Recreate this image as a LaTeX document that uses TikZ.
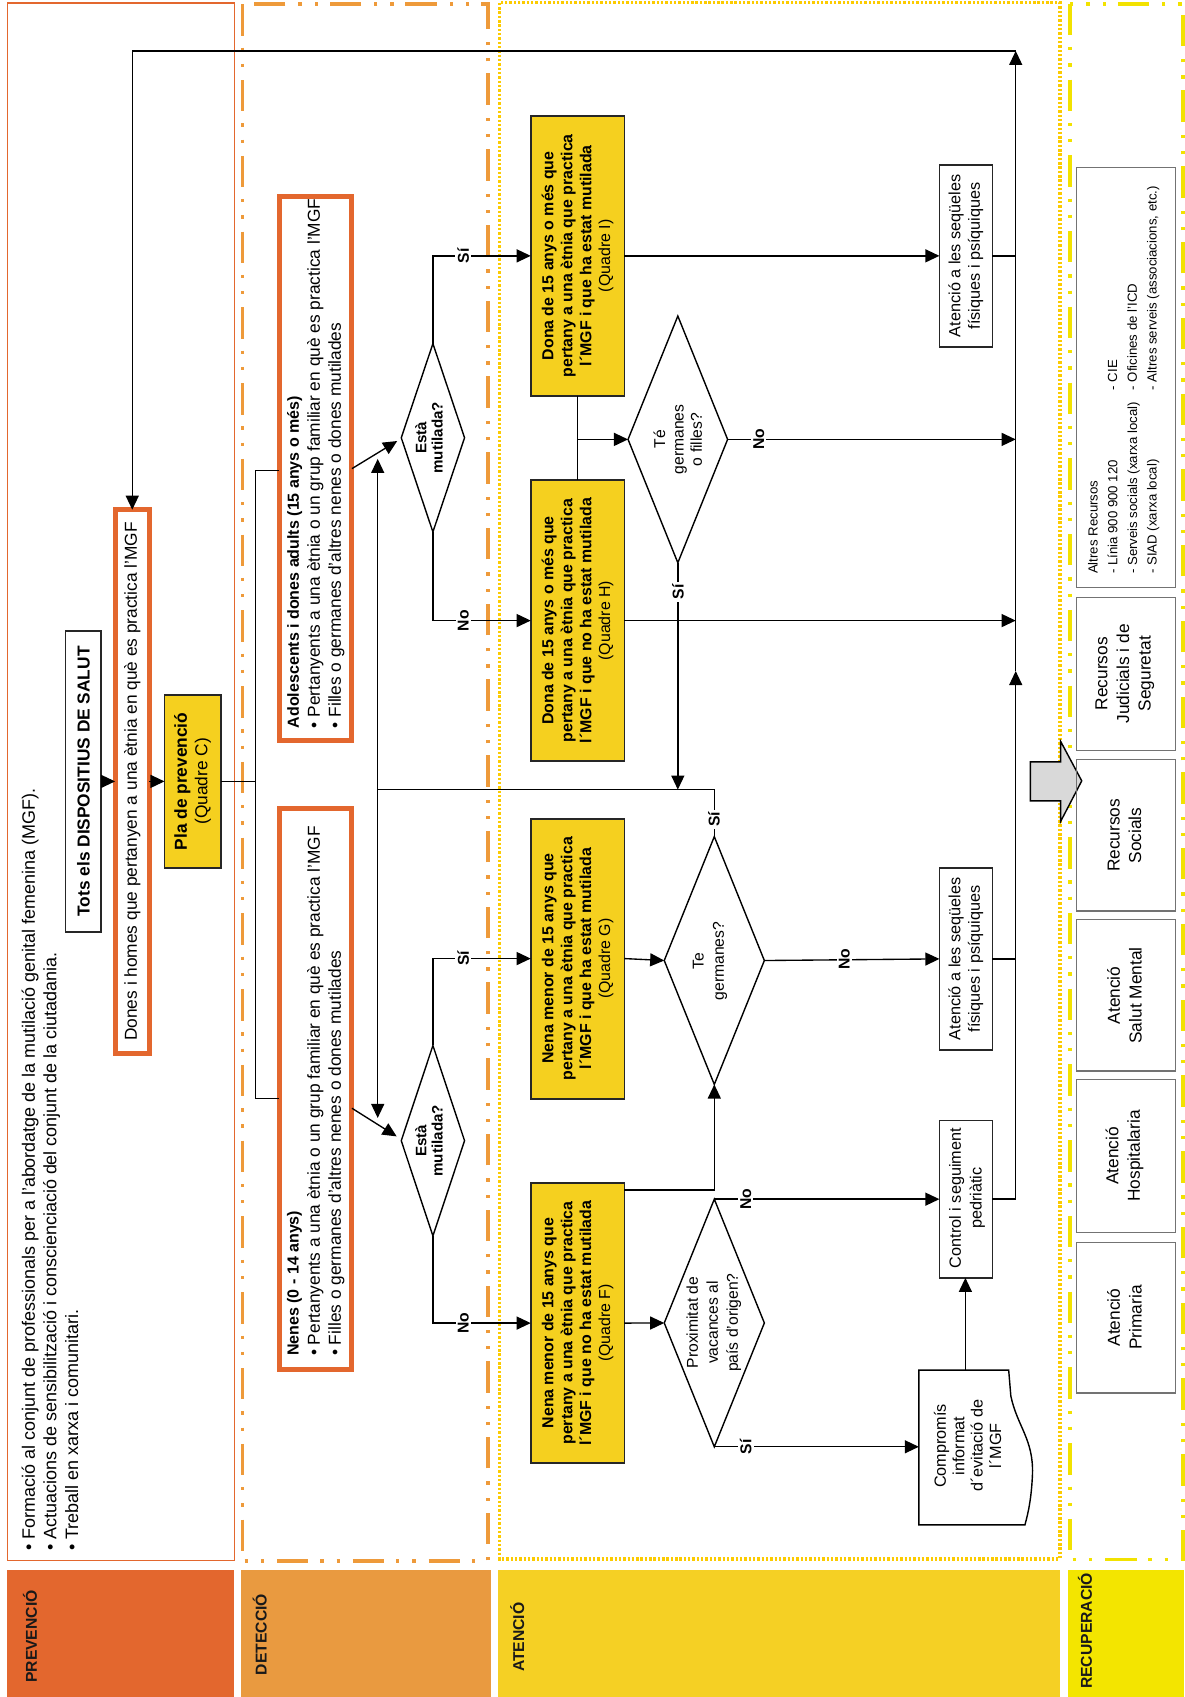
\documentclass[tikz,border=0pt]{standalone}
\usepackage{fontspec}
\setmainfont{Liberation Sans}
\usetikzlibrary{shapes.geometric,arrows.meta,calc}
\newcommand{\myfs}[2]{\fontsize{#1}{#2}\selectfont}
\definecolor{prevO}{HTML}{E3672E}
\definecolor{detO}{HTML}{E99A40}
\definecolor{detD}{HTML}{EE9A3A}
\definecolor{atY}{HTML}{F5D024}
\definecolor{atD}{HTML}{FCCB00}
\definecolor{recY}{HTML}{F3E500}
\definecolor{recD}{HTML}{F2E200}
\definecolor{boxY}{HTML}{F5D01F}
\definecolor{grayA}{HTML}{D9D9D9}
\begin{document}
\begin{tikzpicture}[x=1pt,y=-1pt,
  shp/.style={inner sep=0pt, outer sep=0pt},
  ybox/.style={shp, rectangle, draw=black!85, line width=1.8pt, fill=boxY},
  obox/.style={shp, rectangle, draw=prevO, line width=4.6pt},
  wbox/.style={shp, rectangle, draw=black!85, line width=1.4pt},
  gbox/.style={shp, rectangle, draw=black!55, line width=1.1pt},
  dia/.style={shp, diamond, draw=black, line width=1.3pt},
  txt/.style={rotate=90, inner sep=0pt, align=center, text=black},
  lbl/.style={rotate=90, fill=white, inner sep=2pt, font=\myfs{14.5}{17}\bfseries},
  lane/.style={rotate=90, anchor=west, inner sep=0pt, font=\myfs{14.5}{17}\bfseries, text=black!90},
  conn/.style={line width=1.25pt, draw=black},
  arr/.style={conn, -{Triangle[length=13pt,width=12pt]}},
  ddd/.style={line width=3.5pt, dash pattern=on 29pt off 11pt on 3pt off 12pt on 3pt off 12pt}
]
\useasboundingbox (0,0) rectangle (1094,1568);
\fill[white] (0,0) rectangle (1094,1568);

% ---------- lanes ----------
\draw[prevO, line width=1.5pt] (6.8,2.6) rectangle (216.5,1442);
\fill[prevO] (6.8,1450.3) rectangle (216.5,1568);
\draw[detD, ddd] (224,4) rectangle (450.8,1442);
\fill[detO] (222.7,1450.3) rectangle (453.4,1568);
\draw[atD, line width=3pt, dash pattern=on 2.2pt off 1.8pt] (461.6,2.6) rectangle (979.4,1440.4);
\fill[atY] (460,1450.3) rectangle (979.4,1568);
\draw[recD, ddd] (988.6,3.5) rectangle (1092.7,1441);
\fill[recY] (987,1450.3) rectangle (1094,1568);

\node[lane] (lprev) at (27.7,1555) {PREVENCIÓ};
\node[lane] (ldet) at (240,1548) {DETECCIÓ};
\node[lane] (lat) at (478,1545) {ATENCIÓ};
\node[lane] (lrec) at (1002.5,1560.7) {RECUPERACIÓ};

% ---------- prevenció ----------
\node[txt, align=left, anchor=west, font=\myfs{16.6}{20}] (prevT) at (46.1,1433)
 {• Formació al conjunt de professionals per a l'abordatge de la mutilació genital femenina (MGF).\\
  • Actuacions de sensibilització i conscienciació del conjunt de la ciutadania.\\
  • Treball en xarxa i comunitari.};

\node[wbox, minimum width=32.6pt, minimum height=278pt] (tots) at (77,722) {};
\node[txt, font=\myfs{16}{19}\bfseries] (totsT) at (tots) {Tots els DISPOSITIUS DE SALUT};

\node[obox, minimum width=31.7pt, minimum height=502pt] (dones) at (122.2,722) {};
\node[txt, font=\myfs{16}{19}] (donesT) at (dones) {Dones i homes que pertanyen a una ètnia en què es practica l'MGF};

\node[ybox, minimum width=52pt, minimum height=159.3pt] (pla) at (178,722) {};
\node[txt, font=\myfs{16}{19}] (plaT) at (pla) {{\bfseries Pla de prevenció}\\(Quadre C)};

% ---------- detecció ----------
\node[obox, minimum width=67.4pt, minimum height=502pt] (ado) at (291.5,433) {};
\node[txt, align=left, anchor=west, font=\myfs{16}{19.5}] (adoT) at (291.8,673)
 {{\bfseries\myfs{14.8}{19.5}Adolescents i dones adults (15 anys o més)}\\
  • Pertanyents a una ètnia o un grup familiar en què es practica l'MGF\\
  • Filles o germanes d'altres nenes o dones mutilades};

\node[obox, minimum width=67.4pt, minimum height=518.5pt] (nen) at (291.5,1006) {};
\node[txt, align=left, anchor=west, font=\myfs{16}{19.5}] (nenT) at (291.8,1253)
 {{\bfseries\myfs{14.8}{19.5}Nenes (0 - 14 anys)}\\
  • Pertanyents a una ètnia o un grup familiar en què es practica l'MGF\\
  • Filles o germanes d'altres nenes o dones mutilades};

\node[dia, minimum width=58.5pt, minimum height=174pt] (em1) at (400,404.5) {};
\node[txt, font=\myfs{14}{15}\bfseries] (em1T) at (396.5,404.5) {Està\\mutilada?};
\node[dia, minimum width=58.5pt, minimum height=176pt] (em2) at (400,1054) {};
\node[txt, font=\myfs{14}{15}\bfseries] (em2T) at (396.5,1054) {Està\\mutilada?};

% ---------- atenció ----------
\node[ybox, minimum width=86.6pt, minimum height=258.4pt] (qI) at (533.7,236.4) {};
\node[txt, font=\myfs{14.7}{17.5}\bfseries] (qIT) at (qI) {Dona de 15 anys o més que\\pertany a una ètnia que practica\\l´MGF i que ha estat mutilada\\{\mdseries (Quadre I)}};
\node[ybox, minimum width=86.6pt, minimum height=259.1pt] (qH) at (533.7,573.4) {};
\node[txt, font=\myfs{14.7}{17.5}\bfseries] (qHT) at (qH) {Dona de 15 anys o més que\\pertany a una ètnia que practica\\l´MGF i que no ha estat mutilada\\{\mdseries (Quadre H)}};
\node[ybox, minimum width=86.6pt, minimum height=258.7pt] (qG) at (533.7,885.7) {};
\node[txt, font=\myfs{14.7}{17.5}\bfseries] (qGT) at (qG) {Nena menor de 15 anys que\\pertany a una ètnia que practica\\l´MGF i que ha estat mutilada\\{\mdseries (Quadre G)}};
\node[ybox, minimum width=86.6pt, minimum height=258.4pt] (qF) at (533.7,1222.5) {};
\node[txt, font=\myfs{14.7}{17.5}\bfseries] (qFT) at (qF) {Nena menor de 15 anys que\\pertany a una ètnia que practica\\l´MGF i que no ha estat mutilada\\{\mdseries (Quadre F)}};

\node[dia, minimum width=92pt, minimum height=228pt] (tgf) at (626.3,406) {};
\node[txt, font=\myfs{14.5}{17}] (tgfT) at (626.3,406) {Té\\germanes\\o filles?};
\node[dia, minimum width=92.5pt, minimum height=229pt] (tg) at (660,887.5) {};
\node[txt, font=\myfs{14.5}{18.5}] (tgT) at (656,888) {Te\\germanes?};
\node[dia, minimum width=92.5pt, minimum height=228.8pt] (px) at (660,1222.4) {};
\node[txt, font=\myfs{14.5}{18.5}] (pxT) at (659.6,1222) {Proximitat de\\vacances al\\país d'origen?};

\node[wbox, minimum width=49pt, minimum height=168.2pt] (atU) at (892.5,236.4) {};
\node[txt, font=\myfs{15}{18}] (atUT) at (atU) {Atenció a les seqüeles\\físiques i psíquiques};
\node[wbox, minimum width=49pt, minimum height=168pt] (atL) at (892.5,886) {};
\node[txt, font=\myfs{15}{18}] (atLT) at (atL) {Atenció a les seqüeles\\físiques i psíquiques};
\node[wbox, minimum width=49pt, minimum height=145.4pt] (ctrl) at (892.5,1108) {};
\node[txt, font=\myfs{15}{19}] (ctrlT) at (893.5,1107) {Control i seguiment\\pedriàtic};

\node[shp, minimum width=86pt, minimum height=143pt] (comp) at (892,1337.5) {};
\draw[line width=1.3pt] (849,1266) -- (932,1266) -- (934,1290)
  .. controls (940,1318) and (955,1330) .. (954,1362)
  .. controls (953,1385) and (950,1398) .. (947,1409) -- (849,1409) -- cycle;
\node[txt, font=\myfs{15}{17}] (compT) at (894,1336) {Compromís\\informat\\d´evitació de\\l´MGF};

% ---------- recuperació ----------
\filldraw[fill=grayA, draw=black, line width=1.3pt] (952,704) -- (980,704) -- (980,685) -- (999.5,721.5) -- (980,759) -- (980,740) -- (952,740) -- cycle;

\node[gbox, minimum width=91pt, minimum height=388.2pt] (altres) at (1040.3,348.6) {};
\node[txt, align=left, anchor=west, font=\myfs{12.2}{18.2}] (altresA) at (1038.3,530.4)
 {Altres Recursos\\- Línia 900 900 120\\- Serveis socials (xarxa local)\\- SIAD (xarxa local)};
\node[txt, align=left, anchor=west, font=\myfs{12.2}{18.2}] (altresB) at (1047.5,360.7)
 {- CIE\\- Oficines de l'ICD\\- Altres serveis (associacions, etc.)};
\node[gbox, minimum width=91pt, minimum height=141.4pt] (rjud) at (1040.3,622.5) {};
\node[txt, font=\myfs{16}{20}] (rjudT) at (1039.4,622.5) {Recursos\\Judicials i de\\Seguretat};
\node[gbox, minimum width=91pt, minimum height=139.8pt] (rsoc) at (1040.3,771.9) {};
\node[txt, font=\myfs{16}{20}] (rsocT) at (1039,771.9) {Recursos\\Socials};
\node[gbox, minimum width=91pt, minimum height=139.7pt] (rsm) at (1040.3,919.8) {};
\node[txt, font=\myfs{16}{20}] (rsmT) at (1039,919.8) {Atenció\\Salut Mental};
\node[gbox, minimum width=91pt, minimum height=141.5pt] (rhos) at (1040.3,1068) {};
\node[txt, font=\myfs{16}{20}] (rhosT) at (1039,1068) {Atenció\\Hospitalaria};
\node[gbox, minimum width=91pt, minimum height=139.3pt] (rpri) at (1040.3,1217.4) {};
\node[txt, font=\myfs{16}{20}] (rpriT) at (1039,1217.4) {Atenció\\Primaria};

% ---------- coordinates ----------
\coordinate (brM) at (236,722);
\coordinate (brU) at (236,435);
\coordinate (brL) at (236,1015);
\coordinate (K) at (349,729.6);
\coordinate (Kup) at (349,424);
\coordinate (Kdn) at (349,1033);
\coordinate (d1e) at (367,407.5);
\coordinate (d2s) at (325.2,1024);
\coordinate (d2e) at (366.5,1050);
\coordinate (tj) at (533.7,406);
\coordinate (fT) at (659.6,1099.4);
\coordinate (R0) at (938.5,1108);
\coordinate (Rmid) at (938.5,620);
\coordinate (Rtop) at (938.5,47);

% ---------- connectors ----------
\draw[arr] (tots.east) -- (dones.west);
\draw[arr] (dones.east) -- (pla.west);
\draw[conn] (pla.east) -- (brM);
\draw[conn] (brU -| ado.west) -- (brU) -- (brL) -- (brL -| nen.west);
\draw[arr] (ado.east) -- (d1e);
\draw[arr] (d2s) -- (d2e);
\draw[arr] (K) -- (Kup);
\draw[arr] (K) -- (Kdn);

\draw[arr] (em1.north) |- (qI.west);
\draw[arr] (em1.south) |- (qH.west);
\draw[arr] (em2.north) |- (qG.west);
\draw[arr] (em2.south) |- (qF.west);

\draw[conn] (qI.south) -- (qH.north);
\draw[arr] (tj) -- (tgf.west);
\draw[arr] (tgf.east) -- (tgf.east -| Rtop);
\draw[arr] (tgf.south) -- (tgf.south |- K);
\draw[conn] (tg.north) |- (K);
\draw[arr] (qI.east) -- (atU.west);
\draw[arr] (qH.east) -- (qH.east -| Rtop);
\draw[arr] (qG.east) -- (tg.west);
\draw[arr] (tg.east) -- (atL.west);
\draw[arr] (qF.east |- fT) -| (tg.south);
\draw[arr] (qF.east) -- (px.west);
\draw[arr] (px.north) -- (px.north -| ctrl.west);
\draw[arr] (px.south) -- (px.south -| comp.west);
\draw[arr] (comp.north) -- (comp.north |- ctrl.south);

\draw[conn] (atU.east) -- (atU.east -| Rtop);
\draw[conn] (atL.east) -- (atL.east -| Rtop);
\draw[conn] (ctrl.east) -- (R0);
\draw[arr] (R0) -- (Rmid);
\draw[arr] (Rmid) -- (Rtop);
\draw[arr] (Rtop) -| (dones.north);

% ---------- labels ----------
\node[lbl] (l1) at (428,236.4) {Sí};
\node[lbl] (l2) at (428,573.4) {No};
\node[lbl] (l3) at (428,885.7) {Sí};
\node[lbl] (l4) at (428,1222.5) {No};
\node[lbl] (l5) at (701,406) {No};
\node[lbl] (l6) at (626.3,547) {Sí};
\node[lbl] (l7) at (659.6,757) {Sí};
\node[lbl] (l8) at (780,886) {No};
\node[lbl] (l9) at (689,1108) {No};
\node[lbl] (l10) at (689,1337) {Sí};
\end{tikzpicture}
\end{document}
